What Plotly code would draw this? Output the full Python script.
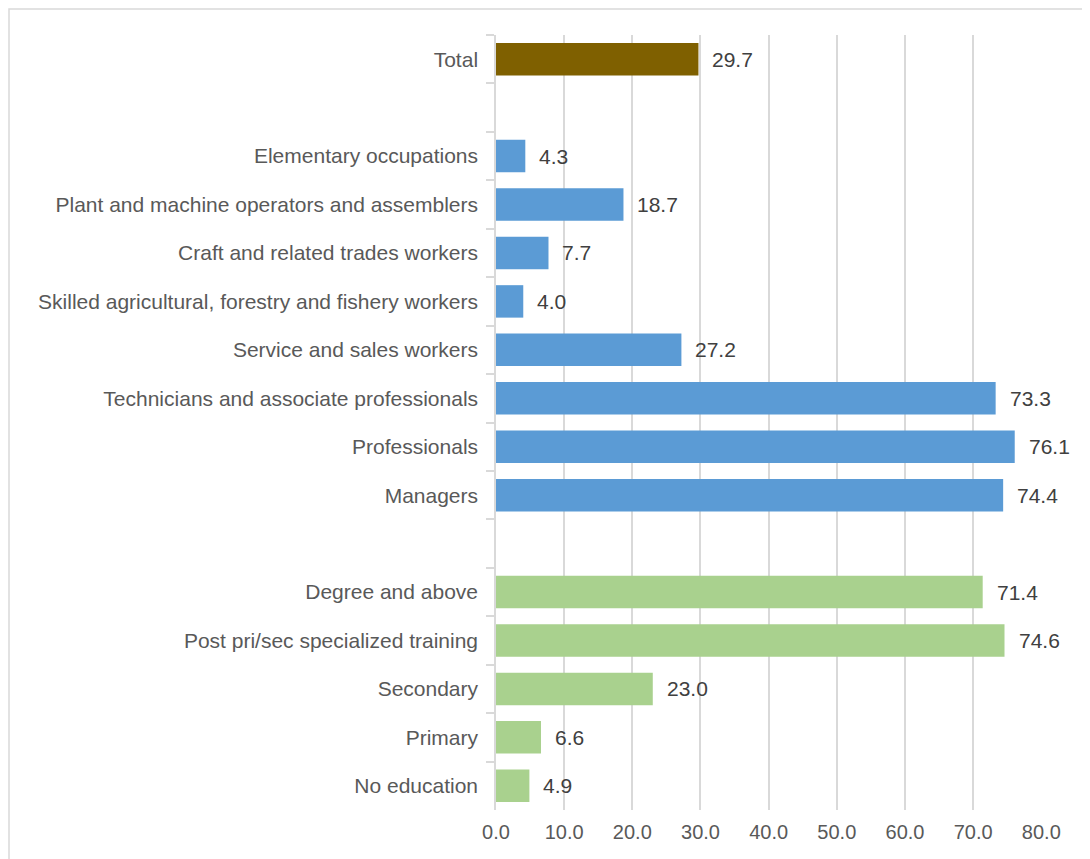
import plotly.graph_objects as go

categories = [
    "Total", " ",
    "Elementary occupations",
    "Plant and machine operators and assemblers",
    "Craft and related trades workers",
    "Skilled agricultural, forestry and fishery workers",
    "Service and sales workers",
    "Technicians and associate professionals",
    "Professionals",
    "Managers",
    "  ",
    "Degree and above",
    "Post pri/sec specialized training",
    "Secondary",
    "Primary",
    "No education",
]
values = [29.7, None, 4.3, 18.7, 7.7, 4.0, 27.2, 73.3, 76.1, 74.4, None,
          71.4, 74.6, 23.0, 6.6, 4.9]
groups = ["total", None] + ["occ"] * 8 + [None] + ["edu"] * 5
group_colors = {"total": "#7f6000", "occ": "#5b9bd5", "edu": "#a9d18e", None: "#ffffff"}
x_ticks = [0, 10, 20, 30, 40, 50, 60, 70, 80]

colors = [group_colors[g] for g in groups]

ML, MR, MT, MB = 488, 56, 27, 57
W, H = 1090, 859
PW = W - ML - MR
PH = H - MT - MB

fig = go.Figure()
fig.add_trace(go.Bar(
    y=categories, x=values, orientation="h",
    marker=dict(color=colors, line=dict(width=0)),
    hoverinfo="skip",
))

for c, v in zip(categories, values):
    if v is None:
        continue
    fig.add_annotation(x=v, y=c, text=f"{v:.1f}", showarrow=False,
                       xanchor="left", yanchor="middle", xshift=12,
                       font=dict(family="Liberation Sans, Arial", size=21, color="#404040"))

fig.add_shape(type="rect", xref="paper", yref="paper",
              x0=(1 - ML) / PW, x1=1.5, y0=-0.5, y1=1 + (MT - 1) / PH,
              line=dict(color="#d9d9d9", width=1.5), fillcolor="rgba(0,0,0,0)", layer="below")

fig.update_layout(
    width=W, height=H,
    margin=dict(l=ML, r=MR, t=MT, b=MB),
    paper_bgcolor="white", plot_bgcolor="white",
    bargap=0.33, showlegend=False,
    font=dict(family="Liberation Sans, Arial", size=21, color="#595959"),
)
fig.update_xaxes(
    range=[0, 80.1], tickvals=x_ticks, ticktext=[f"{t:.1f}" for t in x_ticks],
    showgrid=True, gridcolor="#d9d9d9", gridwidth=1.5, zeroline=False,
    showline=False, ticks="", ticklabelstandoff=8, tickfont=dict(size=20, color="#595959"),
)
fig.update_yaxes(
    type="category", categoryorder="array", categoryarray=categories,
    autorange="reversed", tickson="boundaries", ticks="outside", ticklen=8,
    tickcolor="#d9d9d9", tickwidth=1.5, showline=True, linecolor="#d9d9d9", linewidth=1.5,
    showgrid=False, ticklabelstandoff=12, tickfont=dict(size=21, color="#595959"),
)

fig.write_html("out.html")
